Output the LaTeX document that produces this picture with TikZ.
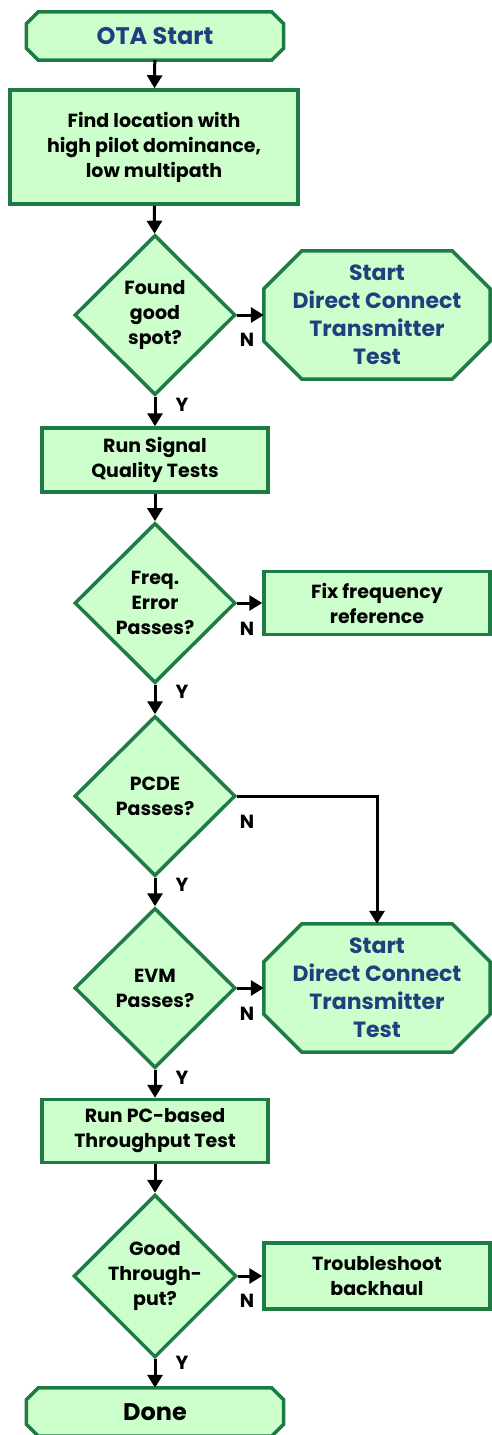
\documentclass[tikz,border=0pt]{standalone}
\usepackage{fontspec}
\setmainfont{Poppins}
\usepackage{xcolor}
\usetikzlibrary{shapes.geometric,arrows.meta}
\definecolor{boxgreen}{HTML}{CCFFCC}
\definecolor{edgegreen}{HTML}{1E7B45}
\definecolor{textblue}{HTML}{1F3F7F}
\pgfdeclarelayer{background}
\pgfsetlayers{background,main}

\begin{document}
\begin{tikzpicture}[x=1pt, y=-1pt, line join=miter, >={Triangle[width=15pt,length=13pt]},
  base/.style={draw=edgegreen, fill=boxgreen, line width=3.5pt, align=center, inner sep=0pt,
    font=\bfseries\fontsize{19}{25}\selectfont},
  endcap/.style={align=center, inner sep=0pt, minimum width=257pt, minimum height=48pt,
    text=textblue, font=\bfseries\fontsize{24}{28}\selectfont},
  stepbox/.style={base, rectangle, minimum width=226pt, minimum height=64pt},
  decision/.style={base, diamond, aspect=1, minimum width=161pt, minimum height=160pt},
  exitbox/.style={align=center, inner sep=0pt, minimum width=226pt, minimum height=128pt,
    text=textblue, font=\bfseries\fontsize{22}{28}\selectfont},
  cutline/.style={draw=edgegreen, fill=boxgreen, line width=3.5pt},
  flow/.style={->, line width=3pt},
  yn/.style={font=\bfseries\fontsize{19}{22}\selectfont, inner sep=0pt}]
  \useasboundingbox (0,0) rectangle (491,1435);

  % main column
  \node[endcap] (start) at (155,36) {OTA Start};
  \node[stepbox, minimum width=288pt, minimum height=114pt] (find) at (154,147)
    {Find location with\\high pilot dominance,\\low multipath};
  \node[decision] (spot) at (155,315) {Found\\good\\spot?};
  \node[stepbox] (sig) at (155,460) {Run Signal\\Quality Tests};
  \node[decision] (freq) at (155,603) {Freq.\\Error\\Passes?};
  \node[decision] (pcde) at (155,796) {PCDE\\Passes?};
  \node[decision] (evm) at (155,988) {EVM\\Passes?};
  \node[stepbox, minimum height=63pt] (pc) at (155,1131) {Run PC-based\\Throughput Test};
  \node[decision] (thru) at (155,1276) {Good\\Through-\\put?};
  \node[endcap, text=black] (done) at (155,1412) {Done};

  % side exits
  \node[exitbox] (direct1) at (377,315) {Start\\Direct Connect\\Transmitter\\Test};
  \node[stepbox, minimum height=63pt] (fix) at (377,603) {Fix frequency\\reference};
  \node[exitbox] (direct2) at (377,988) {Start\\Direct Connect\\Transmitter\\Test};
  \node[stepbox, minimum height=66pt] (trouble) at (377,1276) {Troubleshoot\\backhaul};

  % cut-corner outlines behind the end and exit nodes
  \begin{pgfonlayer}{background}
    \foreach \n/\c in {start/12, done/12, direct1/38, direct2/38}
      \draw[cutline] ([xshift=\c pt]\n.north west) -- ([xshift=-\c pt]\n.north east)
        -- ([yshift=-\c pt]\n.north east) -- ([yshift=\c pt]\n.south east)
        -- ([xshift=-\c pt]\n.south east) -- ([xshift=\c pt]\n.south west)
        -- ([yshift=\c pt]\n.south west) -- ([yshift=-\c pt]\n.north west) -- cycle;
  \end{pgfonlayer}

  % connectors
  \draw[flow] (start) -- (find);
  \draw[flow] (find) -- (spot);
  \draw[flow] (spot) -- (sig);
  \draw[flow] (sig) -- (freq);
  \draw[flow] (freq) -- (pcde);
  \draw[flow] (pcde) -- (evm);
  \draw[flow] (evm) -- (pc);
  \draw[flow] (pc) -- (thru);
  \draw[flow] (thru) -- (done);
  \draw[flow] (spot) -- (direct1);
  \draw[flow] (freq) -- (fix);
  \draw[flow] (pcde.east) -| (direct2.north);
  \draw[flow] (evm) -- (direct2);
  \draw[flow] (thru) -- (trouble);

  % Y / N labels
  \node[yn] (y1) at (182,405) {Y};
  \node[yn] (y2) at (182,692) {Y};
  \node[yn] (y3) at (182,885) {Y};
  \node[yn] (y4) at (182,1078) {Y};
  \node[yn] (y5) at (182,1363) {Y};
  \node[yn] (n1) at (247,340) {N};
  \node[yn] (n2) at (247,629) {N};
  \node[yn] (n3) at (247,822) {N};
  \node[yn] (n4) at (247,1014) {N};
  \node[yn] (n5) at (247,1301) {N};
\end{tikzpicture}
\end{document}
